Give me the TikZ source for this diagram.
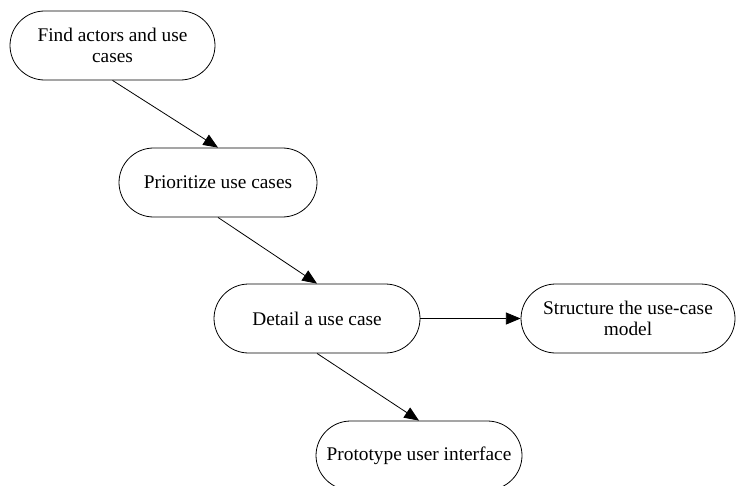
\documentclass[tikz,border=0pt]{standalone}
\usepackage{fontspec}
\setmainfont{Liberation Serif}
\usetikzlibrary{arrows.meta}
\begin{document}
\begin{tikzpicture}[x=0.75pt,y=-0.75pt,
  activity/.style={draw, line width=0.6pt, rounded corners=26pt,
    minimum height=51.75pt, align=center, inner sep=2pt,
    font=\fontsize{14.5pt}{15.5pt}\selectfont},
  flow/.style={draw, line width=0.6pt, -{Triangle[length=11pt,width=9pt]}}]
  \useasboundingbox (0,0) rectangle (737,485);
  \node[activity, minimum width=153.75pt] (find) at (112.5,45.5) {Find actors and use\\cases};
  \node[activity, minimum width=148.5pt] (prio) at (218,182.5) {Prioritize use cases};
  \node[activity, minimum width=154.5pt] (detail) at (317,318.5) {Detail a use case};
  \node[activity, minimum width=160.5pt] (struct) at (628,318.5) {Structure the use-case\\model};
  \node[activity, minimum width=154.5pt] (proto) at (419,455.5) {Prototype user interface};
  \draw[flow] (find.south) -- (prio.north);
  \draw[flow] (prio.south) -- (detail.north);
  \draw[flow] (detail.east) -- (struct.west);
  \draw[flow] (detail.south) -- (proto.north);
\end{tikzpicture}
\end{document}
